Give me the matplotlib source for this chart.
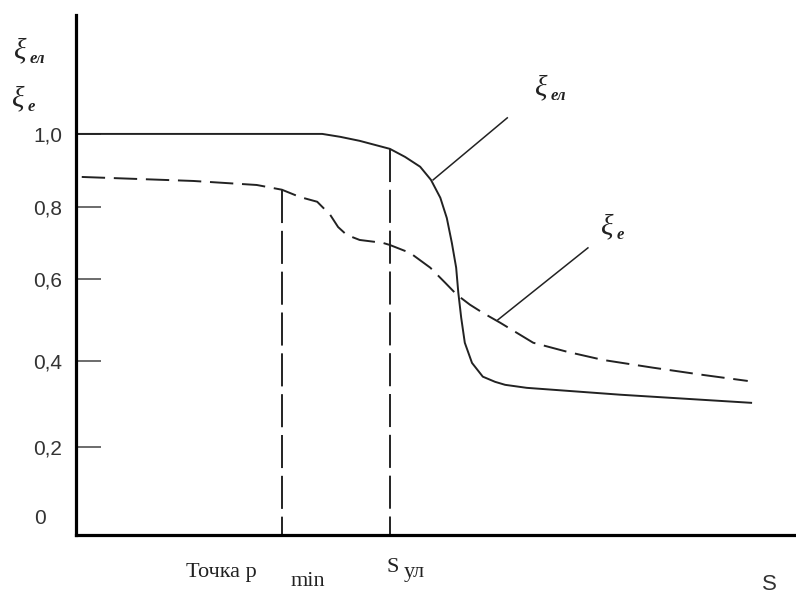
import numpy as np
import matplotlib
matplotlib.use("Agg")
import matplotlib.pyplot as plt

# S along the run (arbitrary units), xi values read for both curves
s_el = [0.0, 3.42, 3.67, 3.94, 4.36, 4.57, 4.78, 4.93, 5.06, 5.15, 5.22, 5.28,
        5.31, 5.35, 5.40, 5.50, 5.65, 5.82, 5.96, 6.26, 7.56, 9.39]
xi_el = [1.0, 1.0, 0.992, 0.981, 0.959, 0.937, 0.910, 0.874, 0.825, 0.769, 0.700, 0.631,
         0.566, 0.505, 0.444, 0.395, 0.363, 0.351, 0.344, 0.337, 0.321, 0.302]

s_e = [0.08, 1.63, 2.51, 2.86, 3.11, 3.35, 3.53, 3.64, 3.76, 3.94, 4.26, 4.36, 4.64,
       4.92, 5.13, 5.29, 5.47, 5.65, 5.89, 6.35, 6.82, 7.32, 8.01, 8.71, 9.33]
xi_e = [0.882, 0.871, 0.860, 0.847, 0.827, 0.814, 0.778, 0.744, 0.722, 0.708, 0.700, 0.694, 0.672,
        0.631, 0.590, 0.561, 0.537, 0.517, 0.493, 0.444, 0.422, 0.402, 0.384, 0.367, 0.353]

s_pmin = 2.86
s_yl = 4.36

ytick_vals = [0.2, 0.4, 0.6, 0.8, 1.0]
ytick_text = ["0,2", "0,4", "0,6", "0,8", "1,0"]

# hand-drawn axis: tick spacing is not uniform, so use a piecewise scale
_knot_v = np.array([0.0, 0.2, 0.4, 0.6, 0.8, 1.0])
_knot_p = -np.array([522.0, 447.0, 361.0, 279.0, 207.0, 134.0])


def _piecewise(x, xs, ys):
    x = np.asarray(x, dtype=float)
    shp = x.shape
    x = np.atleast_1d(x).ravel()
    y = np.interp(x, xs, ys)
    lo = x < xs[0]
    hi = x > xs[-1]
    y[lo] = ys[0] + (x[lo] - xs[0]) * (ys[1] - ys[0]) / (xs[1] - xs[0])
    y[hi] = ys[-1] + (x[hi] - xs[-1]) * (ys[-1] - ys[-2]) / (xs[-1] - xs[-2])
    return y.reshape(shp)


def fwd(v):
    return _piecewise(v, _knot_v, _knot_p)


def inv(p):
    return _piecewise(p, _knot_p, _knot_v)


W, H = 796, 595


def px(x, y):
    return x / W, 1 - y / H


fig = plt.figure(figsize=(W / 100, H / 100), dpi=100)
fig.patch.set_facecolor("white")
ax = fig.add_axes([76 / W, (H - 535) / H, (W - 76) / W, (535 - 15) / H])
ax.set_yscale("function", functions=(fwd, inv))
ax.set_xlim(0, 10)
ax.set_ylim(-0.0356, 1.326)

for side in ("top", "right"):
    ax.spines[side].set_visible(False)
for side in ("left", "bottom"):
    ax.spines[side].set_linewidth(2.3)
    ax.spines[side].set_color("black")

ax.set_xticks([])
ax.set_yticks(ytick_vals)
ax.set_yticklabels(ytick_text)
ax.yaxis.set_minor_locator(matplotlib.ticker.NullLocator())
ax.tick_params(axis="y", direction="in", length=18, width=1.1, color="#444444",
               pad=10, labelsize=15, labelcolor="#333333")
for lbl in ax.get_yticklabels():
    lbl.set_family(["Liberation Sans", "DejaVu Sans"])

ink = "#222222"
ax.plot(s_el, xi_el, color=ink, lw=1.4, solid_capstyle="butt", solid_joinstyle="round")
ax.plot(s_e, xi_e, color=ink, lw=1.4, dashes=(12, 4.5))

ybot = ax.get_ylim()[0]
ax.plot([s_pmin, s_pmin], [np.interp(s_pmin, s_e, xi_e), ybot], color=ink, lw=1.4, dashes=(17, 4))
ax.plot([s_yl, s_yl], [np.interp(s_yl, s_el, xi_el), ybot], color=ink, lw=1.4, dashes=(17, 4))

# leader lines to the curve labels
ax.plot([4.96, 5.99], [0.874, 1.044], color=ink, lw=1.1)
ax.plot([5.86, 7.11], [0.500, 0.686], color=ink, lw=1.1)


def xi_text(x, y, sub, size=21, subsize=12):
    fig.text(*px(x, y), "ξ", family="Liberation Serif", style="italic",
             fontsize=size, va="center", ha="left", color="#222222")
    fig.text(*px(x + 16, y + 8), sub, family="Liberation Serif", style="italic",
             weight="bold", fontsize=subsize, va="center", ha="left", color="#222222")


xi_text(14, 51, "ел")
xi_text(12, 99, "е")
xi_text(535, 88, "ел")
xi_text(601, 227, "е")

fig.text(*px(40, 518), "0", family=["Liberation Sans", "DejaVu Sans"], fontsize=15,
         ha="center", va="center", color="#333333")

serif = dict(family="Liberation Serif", fontsize=16, va="center", ha="left", color="#222222")
fig.text(*px(186, 572), "Точка p", **serif)
fig.text(*px(291, 581), "min", **serif)
fig.text(*px(387, 567), "S", **serif)
fig.text(*px(404, 572), "ул", **serif)
fig.text(*px(762, 584), "S", family=["Liberation Sans", "DejaVu Sans"], fontsize=16,
         va="center", ha="left", color="#333333")

fig.savefig("out.png", dpi=100)
